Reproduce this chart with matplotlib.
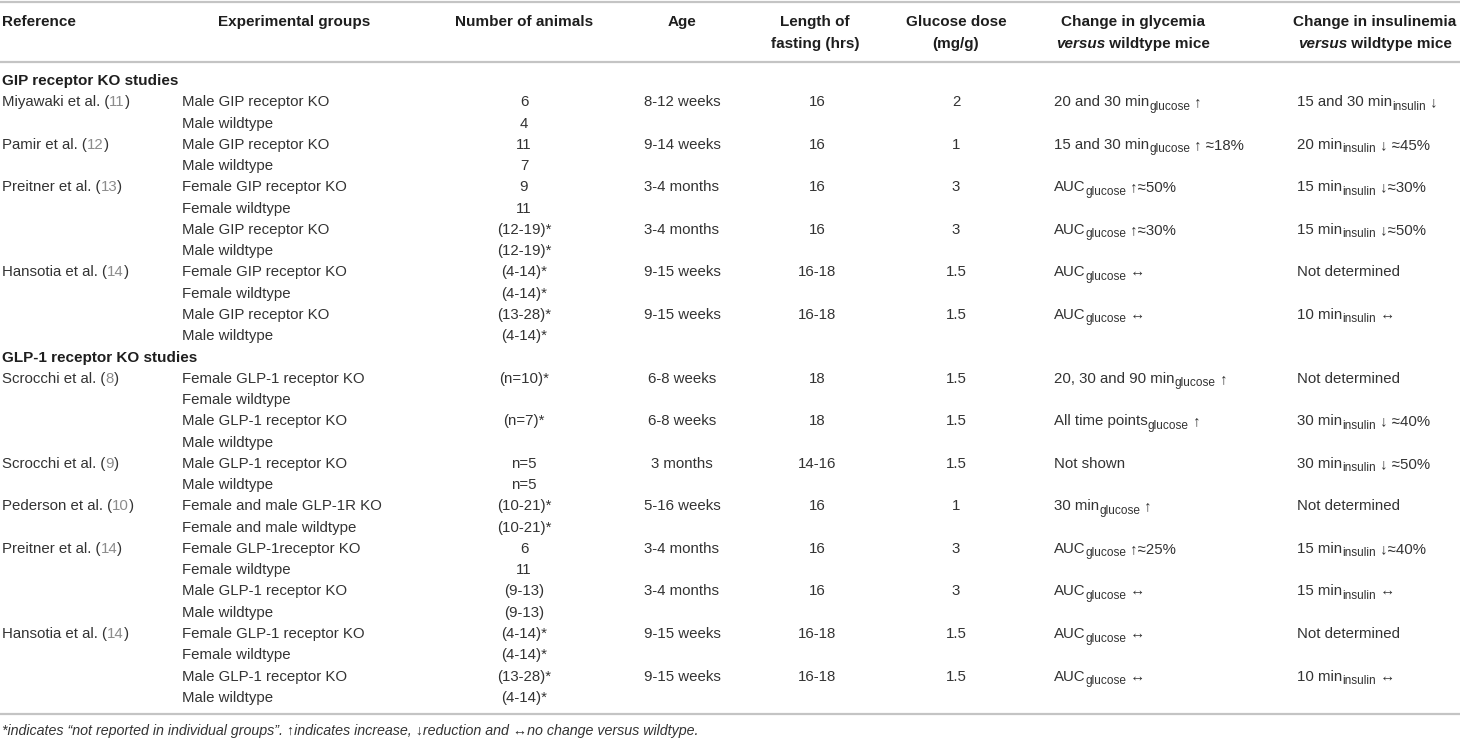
import matplotlib
matplotlib.use("Agg")
import matplotlib.pyplot as plt

plt.rcParams['font.family'] = ['Liberation Sans', 'DejaVu Sans']

# table content
headers = ["Reference", "Experimental groups", "Number of animals", "Age",
           "Length of\nfasting (hrs)", "Glucose dose\n(mg/g)",
           "Change in glycemia", "Change in insulinemia"]
sections = {0: "GIP receptor KO studies", 13: "GLP-1 receptor KO studies"}

refs = {1: ("Miyawaki et al.", "11"), 3: ("Pamir et al.", "12"), 5: ("Preitner et al.", "13"),
        9: ("Hansotia et al.", "14"), 14: ("Scrocchi et al.", "8"), 18: ("Scrocchi et al.", "9"),
        20: ("Pederson et al.", "10"), 22: ("Preitner et al.", "14"), 26: ("Hansotia et al.", "14")}

groups = ["", "Male GIP receptor KO", "Male wildtype", "Male GIP receptor KO", "Male wildtype",
          "Female GIP receptor KO", "Female wildtype", "Male GIP receptor KO", "Male wildtype",
          "Female GIP receptor KO", "Female wildtype", "Male GIP receptor KO", "Male wildtype",
          "", "Female GLP-1 receptor KO", "Female wildtype", "Male GLP-1 receptor KO", "Male wildtype",
          "Male GLP-1 receptor KO", "Male wildtype", "Female and male GLP-1R KO",
          "Female and male wildtype", "Female GLP-1receptor KO", "Female wildtype",
          "Male GLP-1 receptor KO", "Male wildtype", "Female GLP-1 receptor KO", "Female wildtype",
          "Male GLP-1 receptor KO", "Male wildtype"]

n_animals = ["", "6", "4", "11", "7", "9", "11", "(12-19)*", "(12-19)*", "(4-14)*", "(4-14)*",
             "(13-28)*", "(4-14)*", "", "(n=10)*", "", "(n=7)*", "", "n=5", "n=5",
             "(10-21)*", "(10-21)*", "6", "11", "(9-13)", "(9-13)", "(4-14)*", "(4-14)*",
             "(13-28)*", "(4-14)*"]

ages = {1: "8-12 weeks", 3: "9-14 weeks", 5: "3-4 months", 7: "3-4 months", 9: "9-15 weeks",
        11: "9-15 weeks", 14: "6-8 weeks", 16: "6-8 weeks", 18: "3 months", 20: "5-16 weeks",
        22: "3-4 months", 24: "3-4 months", 26: "9-15 weeks", 28: "9-15 weeks"}
fasting = {1: "16", 3: "16", 5: "16", 7: "16", 9: "16-18", 11: "16-18", 14: "18", 16: "18",
           18: "14-16", 20: "16", 22: "16", 24: "16", 26: "16-18", 28: "16-18"}
doses = {1: "2", 3: "1", 5: "3", 7: "3", 9: "1.5", 11: "1.5", 14: "1.5", 16: "1.5",
         18: "1.5", 20: "1", 22: "3", 24: "3", 26: "1.5", 28: "1.5"}

# (text, subscript, tail)
glycemia = {1: ("20 and 30 min", "glucose", " ↑"), 3: ("15 and 30 min", "glucose", " ↑ ≈18%"),
            5: ("AUC", "glucose", " ↑≈50%"), 7: ("AUC", "glucose", " ↑≈30%"),
            9: ("AUC", "glucose", " ↔"), 11: ("AUC", "glucose", " ↔"),
            14: ("20, 30 and 90 min", "glucose", " ↑"), 16: ("All time points", "glucose", " ↑"),
            18: ("Not shown", "", ""), 20: ("30 min", "glucose", " ↑"),
            22: ("AUC", "glucose", " ↑≈25%"), 24: ("AUC", "glucose", " ↔"),
            26: ("AUC", "glucose", " ↔"), 28: ("AUC", "glucose", " ↔")}
insulinemia = {1: ("15 and 30 min", "insulin", " ↓"), 3: ("20 min", "insulin", " ↓ ≈45%"),
               5: ("15 min", "insulin", " ↓≈30%"), 7: ("15 min", "insulin", " ↓≈50%"),
               9: ("Not determined", "", ""), 11: ("10 min", "insulin", " ↔"),
               14: ("Not determined", "", ""), 16: ("30 min", "insulin", " ↓ ≈40%"),
               18: ("30 min", "insulin", " ↓ ≈50%"), 20: ("Not determined", "", ""),
               22: ("15 min", "insulin", " ↓≈40%"), 24: ("15 min", "insulin", " ↔"),
               26: ("Not determined", "", ""), 28: ("10 min", "insulin", " ↔")}

footnote = ("*indicates \u201cnot reported in individual groups\u201d. \u2191indicates increase, "
            "\u2193reduction and \u2194no change versus wildtype.")

txt = '#333333'
hdr = '#1e1e1e'
cite = '#8c8c8c'
rule = '#c4c4c4'
fs = 10.8
sfs = 8.6
hfs = 11

fig = plt.figure(figsize=(14.6, 7.4), dpi=100)
ax = fig.add_axes([0, 0, 1, 1])
ax.set_xlim(0, 1460)
ax.set_ylim(740, 0)
ax.axis('off')
fig.canvas.draw()
rend = fig.canvas.get_renderer()


def pieces(x, y, parts, ha='left'):
    # draw several text pieces one after another
    objs = []
    cur = x
    for s, kw in parts:
        kw = dict(kw)
        shift = kw.pop('dy', 0)
        t = ax.text(cur, y + shift, s, va='baseline', ha='left', **kw)
        w = t.get_window_extent(rend).width
        objs.append(t)
        cur += w
    if ha == 'center':
        off = (cur - x) / 2
        for t in objs:
            px, py = t.get_position()
            t.set_position((px - off, py))


def change_cell(x, y, item):
    main, sub, tail = item
    parts = [(main, dict(fontsize=fs, color=txt))]
    if sub:
        parts.append((sub, dict(fontsize=sfs, color=txt, dy=3.5)))
        parts.append((tail, dict(fontsize=fs, color=txt)))
    pieces(x, y, parts)


# rules
for yl in [1.5, 61.5, 714]:
    ax.plot([0, 1460], [yl, yl], color=rule, lw=1.6, solid_capstyle='butt')

# header row
hy1, hy2 = 26, 48
ax.text(2, hy1, headers[0], ha='left', va='baseline', fontsize=hfs, weight='bold', color=hdr)
ax.text(294, hy1, headers[1], ha='center', va='baseline', fontsize=hfs, weight='bold', color=hdr)
ax.text(524, hy1, headers[2], ha='center', va='baseline', fontsize=hfs, weight='bold', color=hdr)
ax.text(682, hy1, headers[3], ha='center', va='baseline', fontsize=hfs, weight='bold', color=hdr)
for xc, h in [(815, headers[4]), (956, headers[5])]:
    l1, l2 = h.split("\n")
    ax.text(xc, hy1, l1, ha='center', va='baseline', fontsize=hfs, weight='bold', color=hdr)
    ax.text(xc, hy2, l2, ha='center', va='baseline', fontsize=hfs, weight='bold', color=hdr)
for xc, h in [(1133, headers[6]), (1375, headers[7])]:
    ax.text(xc, hy1, h, ha='center', va='baseline', fontsize=hfs, weight='bold', color=hdr)
    pieces(xc, hy2, [("versus", dict(fontsize=hfs, weight='bold', style='italic', color=hdr)),
                     (" wildtype mice", dict(fontsize=hfs, weight='bold', color=hdr))], ha='center')

# body rows
y0, dy = 85, 21.27
for i in range(len(groups)):
    yb = y0 + i * dy
    if i in sections:
        ax.text(2, yb, sections[i], ha='left', va='baseline', fontsize=hfs, weight='bold', color=hdr)
        continue
    if i in refs:
        name, num = refs[i]
        pieces(2, yb, [(name + " (", dict(fontsize=fs, color=txt)),
                       (num, dict(fontsize=fs, color=cite)),
                       (")", dict(fontsize=fs, color=txt))])
    ax.text(182, yb, groups[i], ha='left', va='baseline', fontsize=fs, color=txt)
    if n_animals[i]:
        ax.text(524, yb, n_animals[i], ha='center', va='baseline', fontsize=fs, color=txt)
    if i in ages:
        ax.text(682, yb, ages[i], ha='center', va='baseline', fontsize=fs, color=txt)
    if i in fasting:
        ax.text(817, yb, fasting[i], ha='center', va='baseline', fontsize=fs, color=txt)
    if i in doses:
        ax.text(956, yb, doses[i], ha='center', va='baseline', fontsize=fs, color=txt)
    if i in glycemia:
        change_cell(1054, yb, glycemia[i])
    if i in insulinemia:
        change_cell(1297, yb, insulinemia[i])

ax.text(2, 735, footnote, ha='left', va='baseline', fontsize=10.3, style='italic', color=txt)

fig.savefig("out.png", dpi=100)
